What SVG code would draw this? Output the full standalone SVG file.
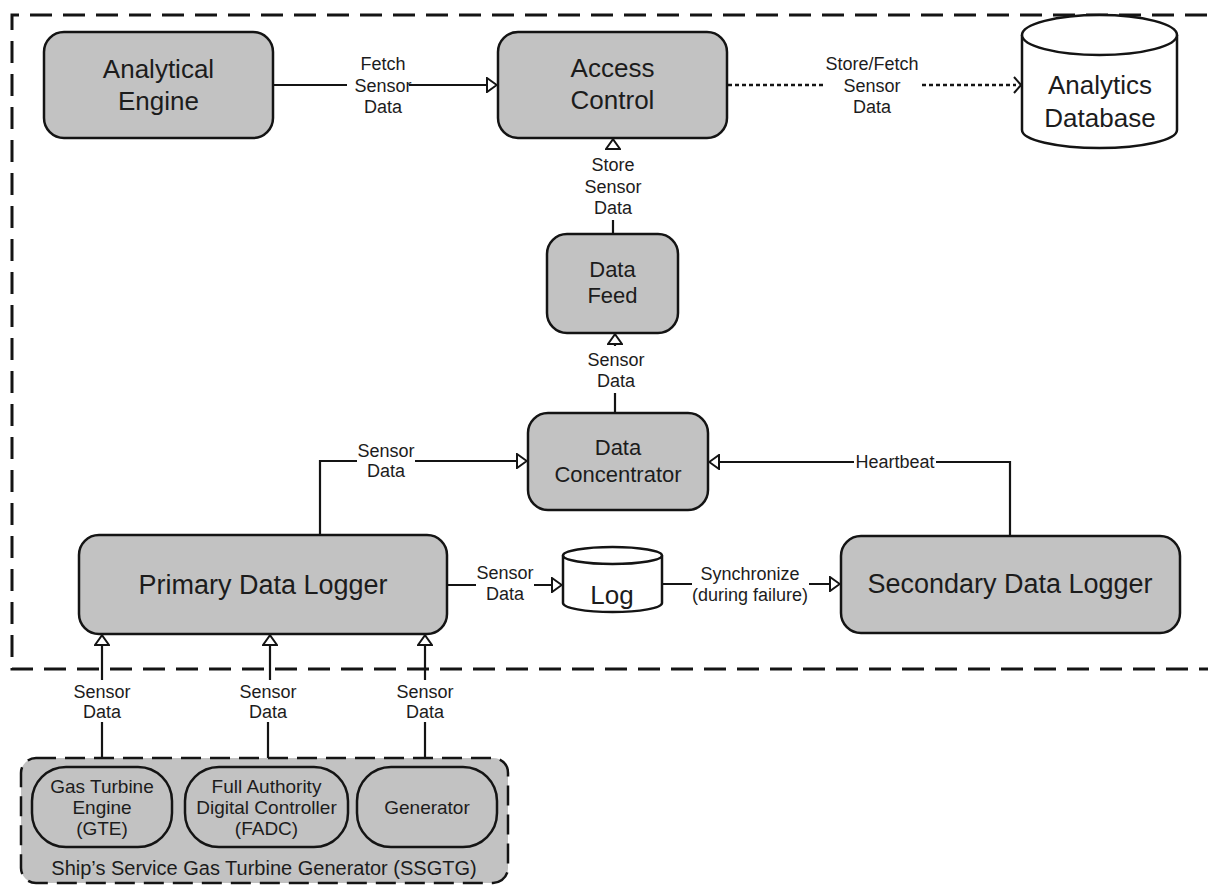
<svg xmlns="http://www.w3.org/2000/svg" width="1208" height="887" viewBox="0 0 1208 887">
<defs>
<style>
.box{fill:#c2c2c2;stroke:#141414;stroke-width:2.5}
.db{fill:#ffffff;stroke:#141414;stroke-width:2.5}
.ln{fill:none;stroke:#141414;stroke-width:2.2}
.dot{fill:none;stroke:#141414;stroke-width:2.5;stroke-dasharray:4 3}
.frame{fill:none;stroke:#141414;stroke-width:3;stroke-dasharray:22 11}
.cont{fill:#c2c2c2;stroke:#141414;stroke-width:2.5;stroke-dasharray:20 9}
text{font-family:"Liberation Sans",Arial,sans-serif;fill:#1c1c1c;text-anchor:middle}
.n26{font-size:26px}
.n27{font-size:27px}
.n22{font-size:22px}
.lb{font-size:18px}
.in{font-size:19px}
.ct{font-size:20px}
</style>
<marker id="tri" markerUnits="userSpaceOnUse" viewBox="0 0 12 16" markerWidth="12" markerHeight="16" refX="11" refY="8" orient="auto">
<path d="M1,1 L10.8,8 L1,15 Z" fill="#ffffff" stroke="#141414" stroke-width="2"/>
</marker>
<marker id="chev" markerUnits="userSpaceOnUse" viewBox="0 0 9 18" markerWidth="9" markerHeight="18" refX="8" refY="9" orient="auto">
<path d="M1,1 L8,9 L1,17" fill="none" stroke="#141414" stroke-width="2"/>
</marker>
</defs>
<rect width="1208" height="887" fill="#ffffff"/>

<path class="frame" d="M1240,15 H12 V669 H1240"/>

<g id="connectors">
<path class="ln" marker-end="url(#tri)" d="M273,85 H347 M409,85 H497"/>
<path class="dot" d="M728,85 H826 M922,85 H1016"/>
<path class="ln" marker-end="url(#chev)" d="M1016,85 H1021" stroke-opacity="0"/>
<path class="ln" marker-end="url(#tri)" d="M613,234 V220 M613,150 V139"/>
<path class="ln" marker-end="url(#tri)" d="M615,413 V393 M615,346 V334"/>
<path class="ln" marker-end="url(#tri)" d="M320,535 V461 H357 M415,461 H527"/>
<path class="ln" marker-end="url(#tri)" d="M1010,536 V462 H936 M854,462 H709"/>
<path class="ln" marker-end="url(#tri)" d="M447,585 H476 M534,585 H562"/>
<path class="ln" marker-end="url(#tri)" d="M662,584 H692 M809,584 H840"/>
<path class="ln" marker-end="url(#tri)" d="M102,767 V722 M102,680 V635"/>
<path class="ln" marker-end="url(#tri)" d="M268,767 V722 M270,680 V635"/>
<path class="ln" marker-end="url(#tri)" d="M425,767 V722 M425,680 V635"/>
<g class="labels">
<text class="lb" x="383" y="70">Fetch</text>
<text class="lb" x="383" y="92">Sensor</text>
<text class="lb" x="383" y="113">Data</text>
<text class="lb" x="872" y="70">Store/Fetch</text>
<text class="lb" x="872" y="92">Sensor</text>
<text class="lb" x="872" y="113">Data</text>
<text class="lb" x="613" y="171">Store</text>
<text class="lb" x="613" y="193">Sensor</text>
<text class="lb" x="613" y="214">Data</text>
<text class="lb" x="616" y="366">Sensor</text>
<text class="lb" x="616" y="387">Data</text>
<text class="lb" x="386" y="457">Sensor</text>
<text class="lb" x="386" y="477">Data</text>
<text class="lb" x="895" y="468">Heartbeat</text>
<text class="lb" x="505" y="579">Sensor</text>
<text class="lb" x="505" y="600">Data</text>
<text class="lb" x="750" y="580">Synchronize</text>
<text class="lb" x="750" y="601">(during failure)</text>
<text class="lb" x="102" y="698">Sensor</text>
<text class="lb" x="102" y="718">Data</text>
<text class="lb" x="268" y="698">Sensor</text>
<text class="lb" x="268" y="718">Data</text>
<text class="lb" x="425" y="698">Sensor</text>
<text class="lb" x="425" y="718">Data</text>
</g>
</g>

<g id="analytical-engine">
<rect class="box" x="44" y="32" width="229" height="106" rx="20"/>
<text class="n26" x="158.5" y="78">Analytical</text>
<text class="n26" x="158.5" y="110">Engine</text>
</g>

<g id="access-control">
<rect class="box" x="498" y="32" width="229" height="106" rx="20"/>
<text class="n26" x="612.5" y="77">Access</text>
<text class="n26" x="612.5" y="109">Control</text>
</g>

<g id="analytics-database">
<path class="db" d="M1022,35 V130 A77.5,18 0 0 0 1177,130 V35"/>
<ellipse class="db" cx="1099.5" cy="35" rx="77.5" ry="20"/>
<text class="n26" x="1100" y="94">Analytics</text>
<text class="n26" x="1100" y="127">Database</text>
</g>

<g id="data-feed">
<rect class="box" x="547" y="234" width="131" height="99" rx="20"/>
<text class="n22" x="612.5" y="277">Data</text>
<text class="n22" x="612.5" y="303">Feed</text>
</g>

<g id="data-concentrator">
<rect class="box" x="528" y="413" width="180" height="97" rx="20"/>
<text class="n22" x="618" y="455">Data</text>
<text class="n22" x="618" y="482">Concentrator</text>
</g>

<g id="primary-data-logger">
<rect class="box" x="79" y="535" width="368" height="99" rx="20"/>
<text class="n27" x="263" y="594">Primary Data Logger</text>
</g>

<g id="log">
<path class="db" d="M563,555.5 V603 A49.5,9 0 0 0 662,603 V555.5"/>
<ellipse class="db" cx="612.5" cy="555.5" rx="49.5" ry="8.5"/>
<text class="n26" x="612" y="604">Log</text>
</g>

<g id="secondary-data-logger">
<rect class="box" x="841" y="536" width="339" height="97" rx="20"/>
<text class="n27" x="1010" y="593">Secondary Data Logger</text>
</g>

<g id="ssgtg">
<rect class="cont" x="21" y="758" width="487" height="125" rx="15"/>
<text class="ct" x="264" y="875">Ship’s Service Gas Turbine Generator (SSGTG)</text>
</g>

<g id="gte">
<rect class="box" x="32" y="767" width="140" height="80" rx="34"/>
<text class="in" x="102" y="793">Gas Turbine</text>
<text class="in" x="102" y="814">Engine</text>
<text class="in" x="102" y="835">(GTE)</text>
</g>

<g id="fadc">
<rect class="box" x="185" y="767" width="163" height="80" rx="34"/>
<text class="in" x="266.5" y="793">Full Authority</text>
<text class="in" x="266.5" y="814">Digital Controller</text>
<text class="in" x="266.5" y="835">(FADC)</text>
</g>

<g id="generator">
<rect class="box" x="357" y="767" width="140" height="80" rx="34"/>
<text class="in" x="427" y="814">Generator</text>
</g>
</svg>
